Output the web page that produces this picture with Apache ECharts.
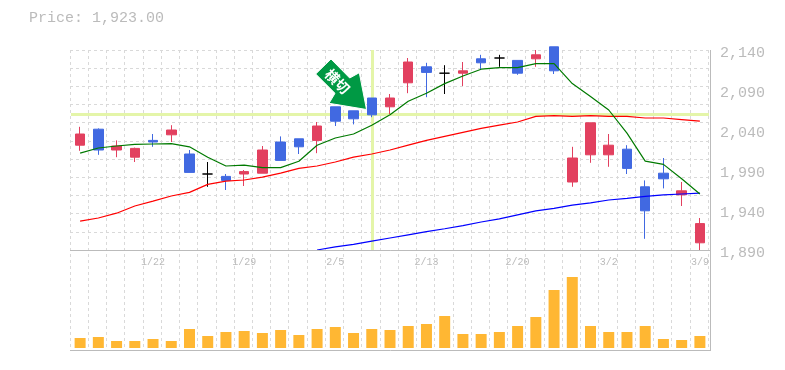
<!DOCTYPE html>
<html>
<head>
<meta charset="utf-8">
<style>html,body{margin:0;padding:0;background:#fff}#c{width:785px;height:370px}</style>
<script src="https://cdn.jsdelivr.net/npm/echarts@6/dist/echarts.min.js"></script>
</head>
<body>
<div id="c"></div>
<script>
const categories = ['1/16','1/17','1/18','1/19','1/22','1/23','1/24','1/25','1/26','1/29','1/30','1/31','2/1','2/2','2/5','2/6','2/7','2/8','2/9','2/13','2/14','2/15','2/16','2/19','2/20','2/21','2/22','2/23','3/1','3/2','3/5','3/6','3/7','3/8','3/9'];
const tickLabels = ['1/22','1/29','2/5','2/13','2/20','3/2','3/9'];
// open, close, low, high
const ohlc = [
[2021,2035,2014,2044],[2041,2015,2009,2042],[2015,2020,2006,2027],[2006,2017,2000,2018],[2027,2025,2019,2035],
[2034,2040,2025,2046],[2010,1987,1987,2015],[1985,1985,1969,2000],[1982,1977,1965,1985],[1985,1988,1970,1990],
[1986,2015,1986,2020],[2025,2002,2002,2032],[2029,2019,2010,2029],[2027,2045,2011,2050],[2069,2051,2045,2069],
[2064,2054,2047,2064],[2080,2059,2056,2080],[2069,2080,2060,2085],[2099,2125,2086,2130],[2119,2112,2081,2124],
[2111,2111,2085,2121],[2111,2114,2095,2125],[2129,2124,2115,2134],[2130,2130,2119,2134],[2127,2111,2109,2127],
[2129,2134,2119,2140],[2144,2114,2110,2144],[1975,2005,1969,2019],[2009,2049,1999,2049],[2009,2021,1994,2035],
[2016,1992,1985,2021],[1969,1939,1904,1977],[1986,1979,1967,2005],[1959,1964,1945,1975],[1899,1923,1890,1930]
];
const maShort = [2011,2017.5,2020,2022,2022.5,2023,2019,2006,1995,1996,1993,1993,2001,2021,2030,2035,2046,2059,2076,2086,2098,2107.5,2116,2118,2118,2123,2123,2098,2082,2065,2036,2001,1997,1979,1960];
const maMid = [1926,1930,1936,1945,1951,1957.5,1962,1972,1976,1977.5,1981,1986,1992,1995,2000,2006,2010,2015,2021,2027,2032,2037,2042,2046,2050,2057,2058,2057,2058,2057,2057,2055,2055,2053,2051];
const maLong = ['-','-','-','-','-','-','-','-','-','-','-','-','-',1890,1894,1897,1901,1905,1909,1913,1916.6,1920.4,1925,1929,1934,1939,1942,1946,1949,1952.5,1954.6,1957,1959,1960,1961];
const volume = [10,11,7,7,9,7,19,12,16,17,15,18,13,19,21,15,19,18,22,24,32,14,14,16,22,31,58,71,22,16,16,22,9,8,12];
const priceLabels = [1890,1940,1990,2040,2090,2140];
const crossPrice = 2059.6;
const crossIndex = 16;

const RED='#e2405f', BLUE='#4169e1', GRID='#d9d9d9', FRAME='#bbbbbb', CROSS='#e4f5a9';
const MONO='"Liberation Mono","DejaVu Sans Mono",monospace';

const chart = echarts.init(document.getElementById('c'), null, {renderer:'canvas'});
const candleData = ohlc.map(v => v[0]===v[1]
  ? {value:v, itemStyle:{color:'#000',color0:'#000',borderColor:'#000',borderColor0:'#000',borderColorDoji:'#000'}}
  : v);
const dash = {color:GRID,width:1,type:[3,3]};
chart.setOption({
  animation:false,
  backgroundColor:'#fff',
  title:{text:'Price: 1,923.00',left:24,top:6,textStyle:{fontFamily:MONO,fontSize:15,fontWeight:'normal',color:FRAME}},
  grid:[
    {left:70,top:50,width:638,height:300},   // vertical dotted lines
    {left:70,top:50,width:638,height:200},   // horizontal dotted lines
    {left:71,top:50,width:638,height:200},   // price
    {left:71,top:250,width:638,height:98}    // volume
  ],
  xAxis:[
    {gridIndex:0,type:'value',min:0,max:35,interval:1,axisLine:{show:false},axisTick:{show:false},axisLabel:{show:false},splitLine:{show:true,lineStyle:dash}},
    {gridIndex:1,type:'value',min:0,max:35,interval:1,show:false,splitLine:{show:false}},
    {gridIndex:2,type:'category',data:categories,axisLine:{show:false},axisTick:{show:false},axisLabel:{show:false},splitLine:{show:false}},
    {gridIndex:3,type:'category',data:categories,position:'top',axisLine:{show:false},axisTick:{show:false},splitLine:{show:false},
     axisLabel:{show:true,inside:true,margin:7,interval:0,fontFamily:MONO,fontSize:10,color:FRAME,
       formatter:v=>tickLabels.includes(v)?v:''}}
  ],
  yAxis:[
    {gridIndex:0,type:'value',min:0,max:1,show:false,splitLine:{show:false}},
    {gridIndex:1,type:'value',min:0,max:11,interval:1,axisLine:{show:false},axisTick:{show:false},axisLabel:{show:false},splitLine:{show:true,lineStyle:dash}},
    {gridIndex:2,type:'value',min:1890,max:2140,interval:10,position:'right',axisLine:{show:false},axisTick:{show:false},splitLine:{show:false},
     axisLabel:{show:true,margin:11,padding:[0,0,0,0],lineHeight:15,verticalAlign:'middle',fontFamily:MONO,fontSize:15,color:FRAME,hideOverlap:false,
       formatter:v=>priceLabels.includes(v)?'{a|'+v.toLocaleString('en-US')+'}':'',
       rich:{a:{fontFamily:MONO,fontSize:15,color:FRAME,padding:[6,0,0,0]}}}},
    {gridIndex:3,type:'value',min:0,max:98,show:false,splitLine:{show:false}}
  ],
  series:[
    {type:'line',xAxisIndex:2,yAxisIndex:2,data:[],z:1,silent:true,
     markLine:{z:1,silent:true,symbol:'none',animation:false,label:{show:false},
       lineStyle:{color:CROSS,width:3,type:'solid'},
       data:[{yAxis:crossPrice},{xAxis:crossIndex}]}},
    {type:'candlestick',xAxisIndex:2,yAxisIndex:2,data:candleData,barWidth:10,clip:false,z:3,
     itemStyle:{color:RED,color0:BLUE,borderColor:RED,borderColor0:BLUE,borderColorDoji:'#000',borderWidth:1}},
    {type:'line',xAxisIndex:2,yAxisIndex:2,data:maLong,symbol:'none',z:4,lineStyle:{color:'#0000ff',width:1.2}},
    {type:'line',xAxisIndex:2,yAxisIndex:2,data:maMid,symbol:'none',z:4,lineStyle:{color:'#ff0000',width:1.2}},
    {type:'line',xAxisIndex:2,yAxisIndex:2,data:maShort,symbol:'none',z:4,lineStyle:{color:'#007a00',width:1.2}},
    {type:'bar',xAxisIndex:3,yAxisIndex:3,data:volume,barWidth:11,itemStyle:{color:'#ffb733'},z:3}
  ],
  graphic:[
    {type:'line',shape:{x1:70,y1:250.5,x2:711,y2:250.5},style:{stroke:FRAME,lineWidth:1},z:10},
    {type:'line',shape:{x1:70,y1:350.5,x2:711,y2:350.5},style:{stroke:FRAME,lineWidth:1},z:10},
    {type:'line',shape:{x1:710.5,y1:50,x2:710.5,y2:351},style:{stroke:FRAME,lineWidth:1},z:10},
    {type:'polygon',z:20,shape:{points:[[331,59],[349.7,78],[359.3,72.7],[366.5,109.5],[329,103.3],[335,93.3],[315.7,74]]},
     style:{fill:'#009944',stroke:'#ffffff',lineWidth:1}},
    {type:'text',z:21,x:337.5,y:81.5,rotation:-Math.PI/4,
     style:{text:'横切',fill:'#fff',font:'bold 14px "Noto Sans CJK JP"',align:'center',verticalAlign:'middle'}}
  ]
});
</script>
</body>
</html>
